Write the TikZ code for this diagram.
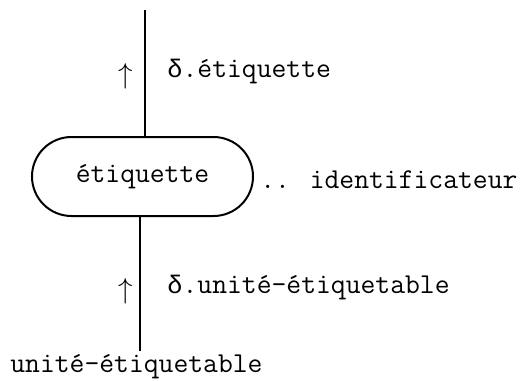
\documentclass[tikz,border=0pt]{standalone}
\usepackage{fontspec}
\newfontfamily\grec{Liberation Mono}[Scale=0.88]
\usetikzlibrary{shapes.misc}
\begin{document}
\begin{tikzpicture}[x=0.5pt,y=-0.5pt,
    lbl/.style={font=\ttfamily\fontsize{14.4}{17}\selectfont, inner sep=0pt},
    regle/.style={draw, line width=1pt, rounded rectangle, minimum width=110.5pt,
      minimum height=39.5pt, inner sep=0pt, font=\ttfamily\fontsize{14.4}{17}\selectfont}]
    \useasboundingbox (0,0) rectangle (524,380);

    % the rule node (middle)
    \node[regle] (etiq) at (142.5,176.5) {étiquette};
    \node[lbl, anchor=west] (ident) at (260,180) {.. identificateur};

    % upper branch
    \coordinate (haut) at (145,10);
    \draw[line width=0.8pt] (haut) -- (haut |- etiq.north);
    \node[lbl] (fl1) at (126,76) {$\uparrow$}; \node[lbl, anchor=west] (dhaut) at
    (167,72) {{\grec δ}.étiquette};

    % lower branch
    \node[lbl, anchor=west] (unite) at (10,367) {unité-étiquetable};
    \coordinate (bas) at (140,351);
    \draw[line width=0.8pt] (etiq.south -| bas) -- (bas);
    \node[lbl] (fl2) at (126,291) {$\uparrow$}; \node[lbl, anchor=west] (dbas) at
    (167,288) {{\grec δ}.unité-étiquetable};
\end{tikzpicture}
\end{document}
